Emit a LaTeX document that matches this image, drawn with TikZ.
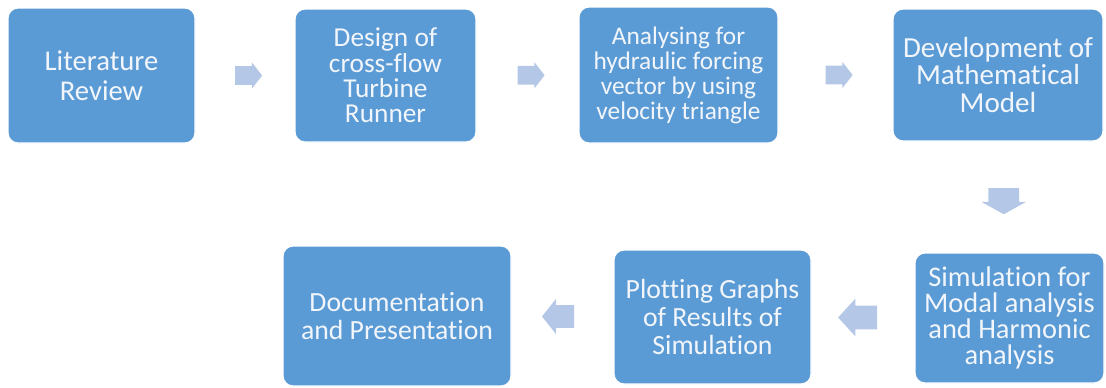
\documentclass[tikz,border=0pt]{standalone}
\usepackage{fontspec}
\setmainfont[Ligatures=NoCommon]{Carlito}
\usepackage{tikz}
\usetikzlibrary{shapes,arrows,calc}

\definecolor{boxblue}{HTML}{5B9BD5}
\definecolor{arrowblue}{HTML}{B4C7E7}
\definecolor{boxtext}{HTML}{F2F6FB}

\begin{document}
\begin{tikzpicture}[x=0.75pt,y=-0.75pt,
    stage/.style={draw=white,line width=0.9pt,fill=boxblue,rounded corners=7.5pt,
        text=boxtext,align=center,inner sep=0pt},
    flow/.style={single arrow,fill=arrowblue,inner sep=0pt,text depth=0pt}]
\useasboundingbox (0,0) rectangle (1106,387);
\draw
    node at(101.5,75.5)[stage,minimum width=140.25pt,minimum height=101.25pt,
        font=\fontsize{21.5}{22.5}\selectfont,name=lit]{Literature\\Review}
    node at(385.5,75.5)[stage,minimum width=135.75pt,minimum height=99.75pt,
        font=\fontsize{20.5}{19}\selectfont,name=des]{Design of\\cross-flow\\Turbine\\Runner}
    node at(678.5,75)[stage,minimum width=149.25pt,minimum height=102pt,
        font=\fontsize{19}{18.75}\selectfont,name=ana]{Analysing for\\hydraulic forcing\\vector by using\\velocity triangle}
    node at(998,75)[stage,minimum width=157.5pt,minimum height=99pt,
        font=\fontsize{21.8}{20.8}\selectfont,name=dev]{Development of\\Mathematical\\Model}

    node at(1009.5,318)[stage,minimum width=141.75pt,minimum height=97.5pt,
        font=\fontsize{21.3}{19.5}\selectfont,name=sim]{Simulation for\\Modal analysis\\and Harmonic\\analysis}
    node at(712.5,317)[stage,minimum width=147.75pt,minimum height=100.5pt,
        font=\fontsize{20.8}{21}\selectfont,name=plot]{Plotting Graphs\\of Results of\\Simulation}
    node at(397,316)[stage,minimum width=171pt,minimum height=105pt,
        font=\fontsize{20.8}{21}\selectfont,name=doc]{Documentation\\and Presentation}
;

    % block arrows between the stages
    \node[flow,minimum height=20.25pt,text height=13.5pt,single arrow head extend=3pt,
        single arrow tip angle=104] (a1) at ($(lit.east)!0.5!(des.west)$) {};
    \node[flow,minimum height=20.25pt,text height=13.5pt,single arrow head extend=3pt,
        single arrow tip angle=104] (a2) at ($(des.east)!0.5!(ana.west)$) {};
    \node[flow,minimum height=20.25pt,text height=13.5pt,single arrow head extend=3pt,
        single arrow tip angle=104] (a3) at ($(ana.east)!0.5!(dev.west)$) {};
    \node[flow,minimum height=19.5pt,text height=22.5pt,single arrow head extend=5.25pt,
        single arrow tip angle=122,rotate=-90] (a4) at ($(dev.south)!0.5!(sim.north)$) {};
    \node[flow,minimum height=29.25pt,text height=17.25pt,single arrow head extend=5.25pt,
        single arrow tip angle=95,rotate=180] (a5) at ($(sim.west)!0.5!(plot.east)$) {};
    \node[flow,minimum height=24pt,text height=16.5pt,single arrow head extend=4.9pt,
        single arrow tip angle=103,rotate=180] (a6) at ($(plot.west)!0.5!(doc.east)$) {};
\end{tikzpicture}
\end{document}
